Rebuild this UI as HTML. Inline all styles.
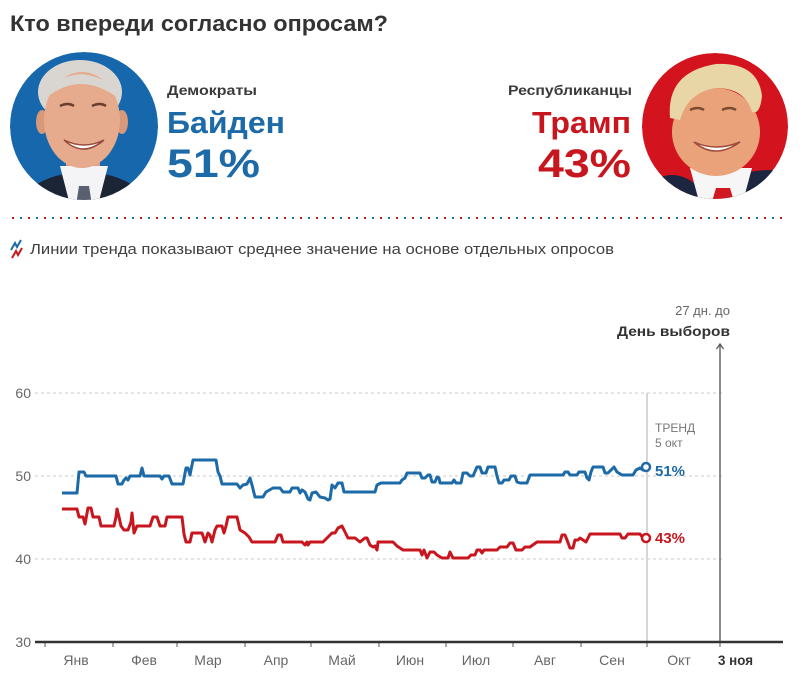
<!DOCTYPE html>
<html><head><meta charset="utf-8">
<style>
html,body{margin:0;padding:0;background:#fff;width:800px;height:679px;overflow:hidden}
svg{display:block}
text{font-family:"Liberation Sans","DejaVu Sans",sans-serif}
</style></head>
<body>
<svg width="800" height="679" viewBox="0 0 800 679" xmlns="http://www.w3.org/2000/svg">
<defs>
<clipPath id="cb"><circle cx="84" cy="126" r="74"/></clipPath>
<clipPath id="ct"><circle cx="715" cy="126" r="73"/></clipPath>
</defs>
<rect width="800" height="679" fill="#fff"/>

<!-- Title -->
<text x="10" y="31" font-size="22" font-weight="bold" fill="#333" textLength="378" lengthAdjust="spacingAndGlyphs">Кто впереди согласно опросам?</text>

<!-- Biden photo -->
<g clip-path="url(#cb)">
<circle cx="84" cy="126" r="74" fill="#1767ad"/>
<ellipse cx="80" cy="92" rx="42" ry="32" fill="#d9d6d2"/>
<rect x="66" y="150" width="34" height="30" fill="#dfa084"/>
<ellipse cx="84" cy="222" rx="72" ry="50" fill="#1c2535"/>
<polygon points="60,166 108,166 98,205 70,205" fill="#f4f4f6"/>
<polygon points="79,186 89,186 92,205 76,205" fill="#5a6070"/>
<ellipse cx="42" cy="122" rx="6" ry="12" fill="#d8987a"/>
<ellipse cx="122" cy="122" rx="6" ry="12" fill="#d8987a"/>
<ellipse cx="82" cy="120" rx="38" ry="48" fill="#e6aa8c"/>
<path d="M46,98 Q80,70 118,98 Q112,78 82,74 Q52,76 46,98Z" fill="#d9d6d2"/>
<path d="M60,106 q8,-4 14,0" stroke="#6a3d2c" stroke-width="2.5" fill="none"/>
<path d="M92,106 q8,-4 14,0" stroke="#6a3d2c" stroke-width="2.5" fill="none"/>
<path d="M64,140 Q83,158 104,140 Q84,150 64,140Z" fill="#fff" stroke="#9a4a3a" stroke-width="1.5"/>
</g>

<!-- Biden text -->
<text x="167" y="95" font-size="13.5" font-weight="bold" fill="#3a3a3a" textLength="90" lengthAdjust="spacingAndGlyphs">Демократы</text>
<text x="167" y="133" font-size="31" font-weight="bold" fill="#1c6aa8" textLength="118" lengthAdjust="spacingAndGlyphs">Байден</text>
<text x="167" y="177" font-size="40" font-weight="bold" fill="#1c6aa8" textLength="93" lengthAdjust="spacingAndGlyphs">51%</text>

<!-- Trump text -->
<text x="508" y="95" font-size="13.5" font-weight="bold" fill="#3a3a3a" textLength="124" lengthAdjust="spacingAndGlyphs">Республиканцы</text>
<text x="532" y="133" font-size="31" font-weight="bold" fill="#c8161e" textLength="99" lengthAdjust="spacingAndGlyphs">Трамп</text>
<text x="538" y="177" font-size="40" font-weight="bold" fill="#c8161e" textLength="93" lengthAdjust="spacingAndGlyphs">43%</text>

<!-- Trump photo -->
<g clip-path="url(#ct)">
<circle cx="715" cy="126" r="73" fill="#d3141e"/>
<ellipse cx="770" cy="225" rx="75" ry="55" fill="#1c2640"/>
<ellipse cx="672" cy="225" rx="40" ry="50" fill="#1c2640"/>
<rect x="700" y="150" width="40" height="30" fill="#dd9670"/>
<polygon points="690,168 752,168 742,205 700,205" fill="#f6f6f6"/>
<polygon points="716,188 730,188 735,205 711,205" fill="#d01822"/>
<ellipse cx="716" cy="132" rx="44" ry="44" fill="#e9a27a"/>
<path d="M670,118 Q666,72 716,64 Q758,62 762,96 Q760,115 752,112 Q745,88 716,88 Q688,92 680,120Z" fill="#e8d6a6"/>
<path d="M690,110 q8,-4 14,0" stroke="#7a4a32" stroke-width="2.5" fill="none"/>
<path d="M722,110 q8,-4 14,0" stroke="#7a4a32" stroke-width="2.5" fill="none"/>
<path d="M694,142 Q715,160 740,142 Q716,152 694,142Z" fill="#fff" stroke="#a04a3a" stroke-width="1.5"/>
</g>

<!-- dotted separator -->
<line x1="12" y1="218" x2="788" y2="218" stroke="#c8161e" stroke-width="2" stroke-dasharray="2 14"/>
<line x1="20" y1="218" x2="788" y2="218" stroke="#1c6aa8" stroke-width="2" stroke-dasharray="2 14"/>

<!-- legend -->
<polyline points="11,250 15,243 17,247 21,240" stroke="#1c6aa8" stroke-width="2" fill="none"/>
<polyline points="12,258 16,251 18,255 22,248" stroke="#c8161e" stroke-width="2" fill="none"/>
<text x="30" y="254" font-size="15" fill="#404040" textLength="584" lengthAdjust="spacingAndGlyphs">Линии тренда показывают среднее значение на основе отдельных опросов</text>

<!-- gridlines -->
<g stroke="#c8c8c8" stroke-width="1" stroke-dasharray="3 3">
<line x1="35" y1="393" x2="723" y2="393"/>
<line x1="35" y1="476" x2="723" y2="476"/>
<line x1="35" y1="559" x2="723" y2="559"/>
</g>
<g font-size="14" fill="#666" text-anchor="end">
<text x="31" y="398">60</text>
<text x="31" y="481">50</text>
<text x="31" y="564">40</text>
<text x="31" y="647">30</text>
</g>

<!-- trend line marker -->
<line x1="647" y1="393" x2="647" y2="642" stroke="#d6d6d6" stroke-width="2"/>
<rect x="652" y="416" width="44" height="34" fill="#fff"/>
<text x="655" y="432" font-size="12" fill="#777">ТРЕНД</text>
<text x="655" y="447" font-size="12" fill="#777">5 окт</text>

<!-- election day -->
<line x1="720" y1="345" x2="720" y2="642" stroke="#666" stroke-width="1.5"/>
<polyline points="716.5,349 720,344 723.5,349" stroke="#555" stroke-width="1.3" fill="none"/>
<text x="730" y="315" font-size="13" fill="#666" text-anchor="end">27 дн. до</text>
<text x="730" y="336" font-size="14" font-weight="bold" fill="#333" text-anchor="end" textLength="113" lengthAdjust="spacingAndGlyphs">День выборов</text>

<!-- series -->
<polyline fill="none" stroke="#1c6aa8" stroke-width="3" stroke-linejoin="round" points="62,493 77,493 79,472 84,472 86,476 116,476 118,484 122,484 124,480 126,478 128,480 130,476 140,476 142,468 144,476 160,476 162,479 164,476 169,476 172,484 183,484 186,468 188,468 190,475 193,460 216,460 218,472 220,476 222,484 237,484 240,488 243,485 247,484 250,478 252,485 255,497 263,497 266,492 273,488 280,488 283,492 290,492 292,488 298,488 300,493 302,490 305,492 308,499 310,500 312,493 316,492 320,497 325,498 328,500 330,499 332,485 335,488 338,483 342,483 344,492 375,492 377,485 381,483 400,483 402,480 405,478 407,473 420,473 422,478 425,478 428,475 430,475 432,482 435,482 437,477 439,478 440,483 452,483 454,480 456,483 461,483 463,473 467,473 470,476 473,476 477,467 480,467 482,473 486,473 488,467 495,467 497,476 499,483 502,483 504,480 509,480 511,476 515,476 517,482 520,483 527,483 530,475 563,475 565,472 568,472 570,475 577,475 579,472 585,472 587,478 589,480 591,472 593,467 603,467 605,473 608,473 611,470 614,467 617,472 622,475 633,475 636,470 640,468 643,470 646,467"/>
<polyline fill="none" stroke="#c8161e" stroke-width="3" stroke-linejoin="round" points="62,509 77,509 79,517 83,517 85,524 88,508 91,508 93,517 99,517 101,526 114,526 116,517 117,509 119,517 121,526 124,530 128,530 131,522 132,513 134,533 137,526 150,526 153,517 157,517 160,526 165,526 167,517 182,517 184,534 186,542 190,542 192,533 202,533 205,542 208,533 210,535 212,542 215,530 217,526 222,526 224,533 226,526 228,517 237,517 240,530 245,533 249,537 252,542 275,542 278,535 281,535 283,542 302,542 305,545 307,542 308,545 310,542 323,542 327,538 332,533 335,533 338,528 342,526 345,532 348,538 355,538 360,542 365,538 367,538 370,545 373,547 375,546 377,550 378,542 393,542 397,546 400,548 403,550 420,550 422,555 424,550 427,558 430,552 434,552 437,555 442,558 448,558 450,552 453,558 468,558 471,555 475,555 477,550 480,550 482,553 484,550 497,550 500,547 507,547 510,543 513,543 516,550 522,550 525,547 530,547 537,542 560,542 562,535 565,535 567,540 570,548 573,548 575,540 578,540 580,538 583,540 586,542 590,534 620,534 622,538 625,538 628,534 640,534 643,538 646,538"/>
<circle cx="646" cy="467" r="4" fill="#fff" stroke="#1c6aa8" stroke-width="2.5"/>
<circle cx="646" cy="538" r="4" fill="#fff" stroke="#c8161e" stroke-width="2.5"/>
<text x="655" y="476" font-size="15" font-weight="bold" fill="#1c6aa8">51%</text>
<text x="655" y="543" font-size="15" font-weight="bold" fill="#c8161e">43%</text>

<!-- x axis -->
<line x1="35" y1="642" x2="783" y2="642" stroke="#333" stroke-width="2.5"/>
<g stroke="#555" stroke-width="1">
<line x1="45" y1="643" x2="45" y2="647"/>
<line x1="113" y1="643" x2="113" y2="647"/>
<line x1="177" y1="643" x2="177" y2="647"/>
<line x1="245" y1="643" x2="245" y2="647"/>
<line x1="311" y1="643" x2="311" y2="647"/>
<line x1="379" y1="643" x2="379" y2="647"/>
<line x1="446" y1="643" x2="446" y2="647"/>
<line x1="513" y1="643" x2="513" y2="647"/>
<line x1="581" y1="643" x2="581" y2="647"/>
<line x1="647" y1="643" x2="647" y2="647"/>
<line x1="720" y1="643" x2="720" y2="647"/>
</g>
<g font-size="14" fill="#666" text-anchor="middle">
<text x="76" y="665">Янв</text>
<text x="144" y="665">Фев</text>
<text x="208" y="665">Мар</text>
<text x="276" y="665">Апр</text>
<text x="342" y="665">Май</text>
<text x="410" y="665">Июн</text>
<text x="476" y="665">Июл</text>
<text x="545" y="665">Авг</text>
<text x="612" y="665">Сен</text>
<text x="679" y="665">Окт</text>
</g>
<text x="718" y="665" font-size="14" font-weight="bold" fill="#333" textLength="35" lengthAdjust="spacingAndGlyphs">3 ноя</text>
</svg>
</body></html>
